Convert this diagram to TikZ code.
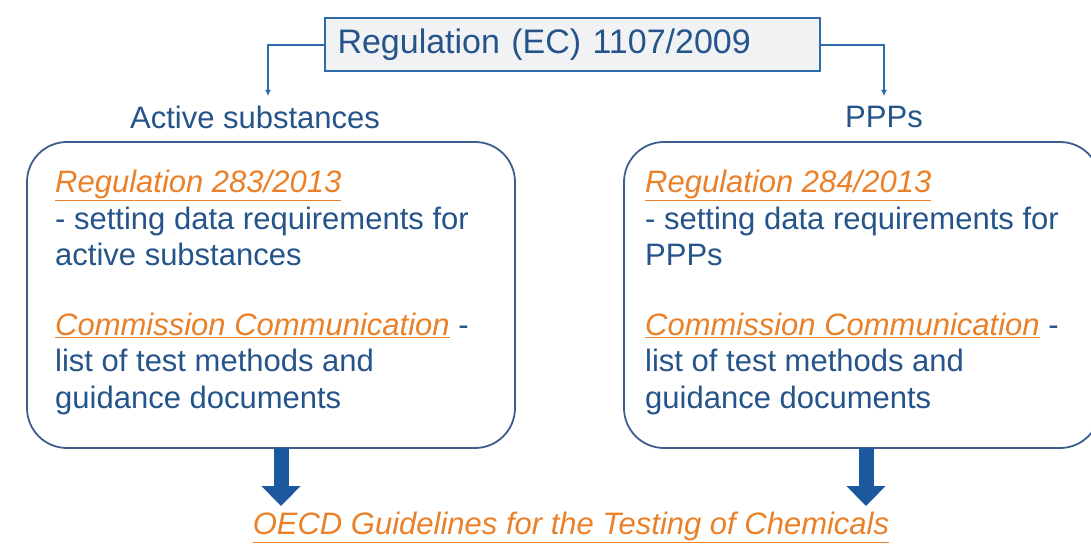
\documentclass[tikz,border=0pt]{standalone}
\usepackage{fontspec}
\setmainfont{Liberation Sans}
\usetikzlibrary{arrows.meta}
\definecolor{txtblue}{RGB}{36,84,138}
\definecolor{lineblue}{RGB}{45,108,168}
\definecolor{boxedge}{RGB}{62,92,140}
\definecolor{arrowblue}{RGB}{28,88,158}
\definecolor{linkorange}{RGB}{234,128,40}
\definecolor{titlefill}{RGB}{241,242,244}
\newcommand{\linkref}[1]{{\color{linkorange}\underline{\textit{#1}}}}
\begin{document}
\begin{tikzpicture}[x=1pt,y=-1pt,
  titlebox/.style={draw=lineblue,line width=2pt,fill=titlefill,
    text width=469pt,align=left,inner xsep=13pt,
    minimum height=53pt,inner ysep=0pt,
    font=\fontsize{34}{38}\selectfont,text=txtblue},
  branchlabel/.style={font=\fontsize{31}{36}\selectfont,text=txtblue,inner sep=2pt},
  groupbox/.style={draw=boxedge,line width=1.8pt,rounded corners=40pt},
  boxtext/.style={anchor=north west,inner sep=0pt,align=left,
    font=\fontsize{31}{36.5}\selectfont,text=txtblue},
  feed/.style={draw=lineblue,line width=2pt,-{Latex[length=6pt,width=6pt]}},
  bigarrow/.style={draw=arrowblue,line width=15pt,-{Triangle[length=20pt,width=38pt]}}]
  \useasboundingbox (0,0) rectangle (1091,545);

  % top regulation
  \node[titlebox] (top) at (572,45) {Regulation (EC) 1107/2009};

  % branch headings
  \node[branchlabel] (as) at (255,117) {Active substances};
  \node[branchlabel] (ppp) at (884,117) {PPPs};

  \coordinate (asin) at (268,96);
  \coordinate (pppin) at (884,96);
  \draw[feed] (top.west) -| (asin);
  \draw[feed] (top.east) -| (pppin);

  % rounded group boxes
  \draw[groupbox] (27,142) rectangle (515,448);
  \draw[groupbox] (624,142) rectangle (1100,448);
  \coordinate (lbot) at (281,448);
  \coordinate (rbot) at (866,448);

  \node[boxtext] (ltext) at (55,170) {\linkref{Regulation 283/2013}\\
    - setting data requirements for\\
    active substances\\[33pt]
    \linkref{Commission Communication} -\\
    list of test methods and\\
    guidance documents};
  \node[boxtext] (rtext) at (645,170) {\linkref{Regulation 284/2013}\\
    - setting data requirements for\\
    PPPs\\[33pt]
    \linkref{Commission Communication} -\\
    list of test methods and\\
    guidance documents};

  % guidelines at the bottom
  \node[font=\fontsize{31}{36}\selectfont,inner sep=0pt] (oecd) at (571,527)
    {\linkref{OECD Guidelines for the Testing of Chemicals}};
  \coordinate (ltip) at (281,506);
  \coordinate (rtip) at (866,506);
  \draw[bigarrow] (lbot) -- (ltip);
  \draw[bigarrow] (rbot) -- (rtip);
\end{tikzpicture}
\end{document}
